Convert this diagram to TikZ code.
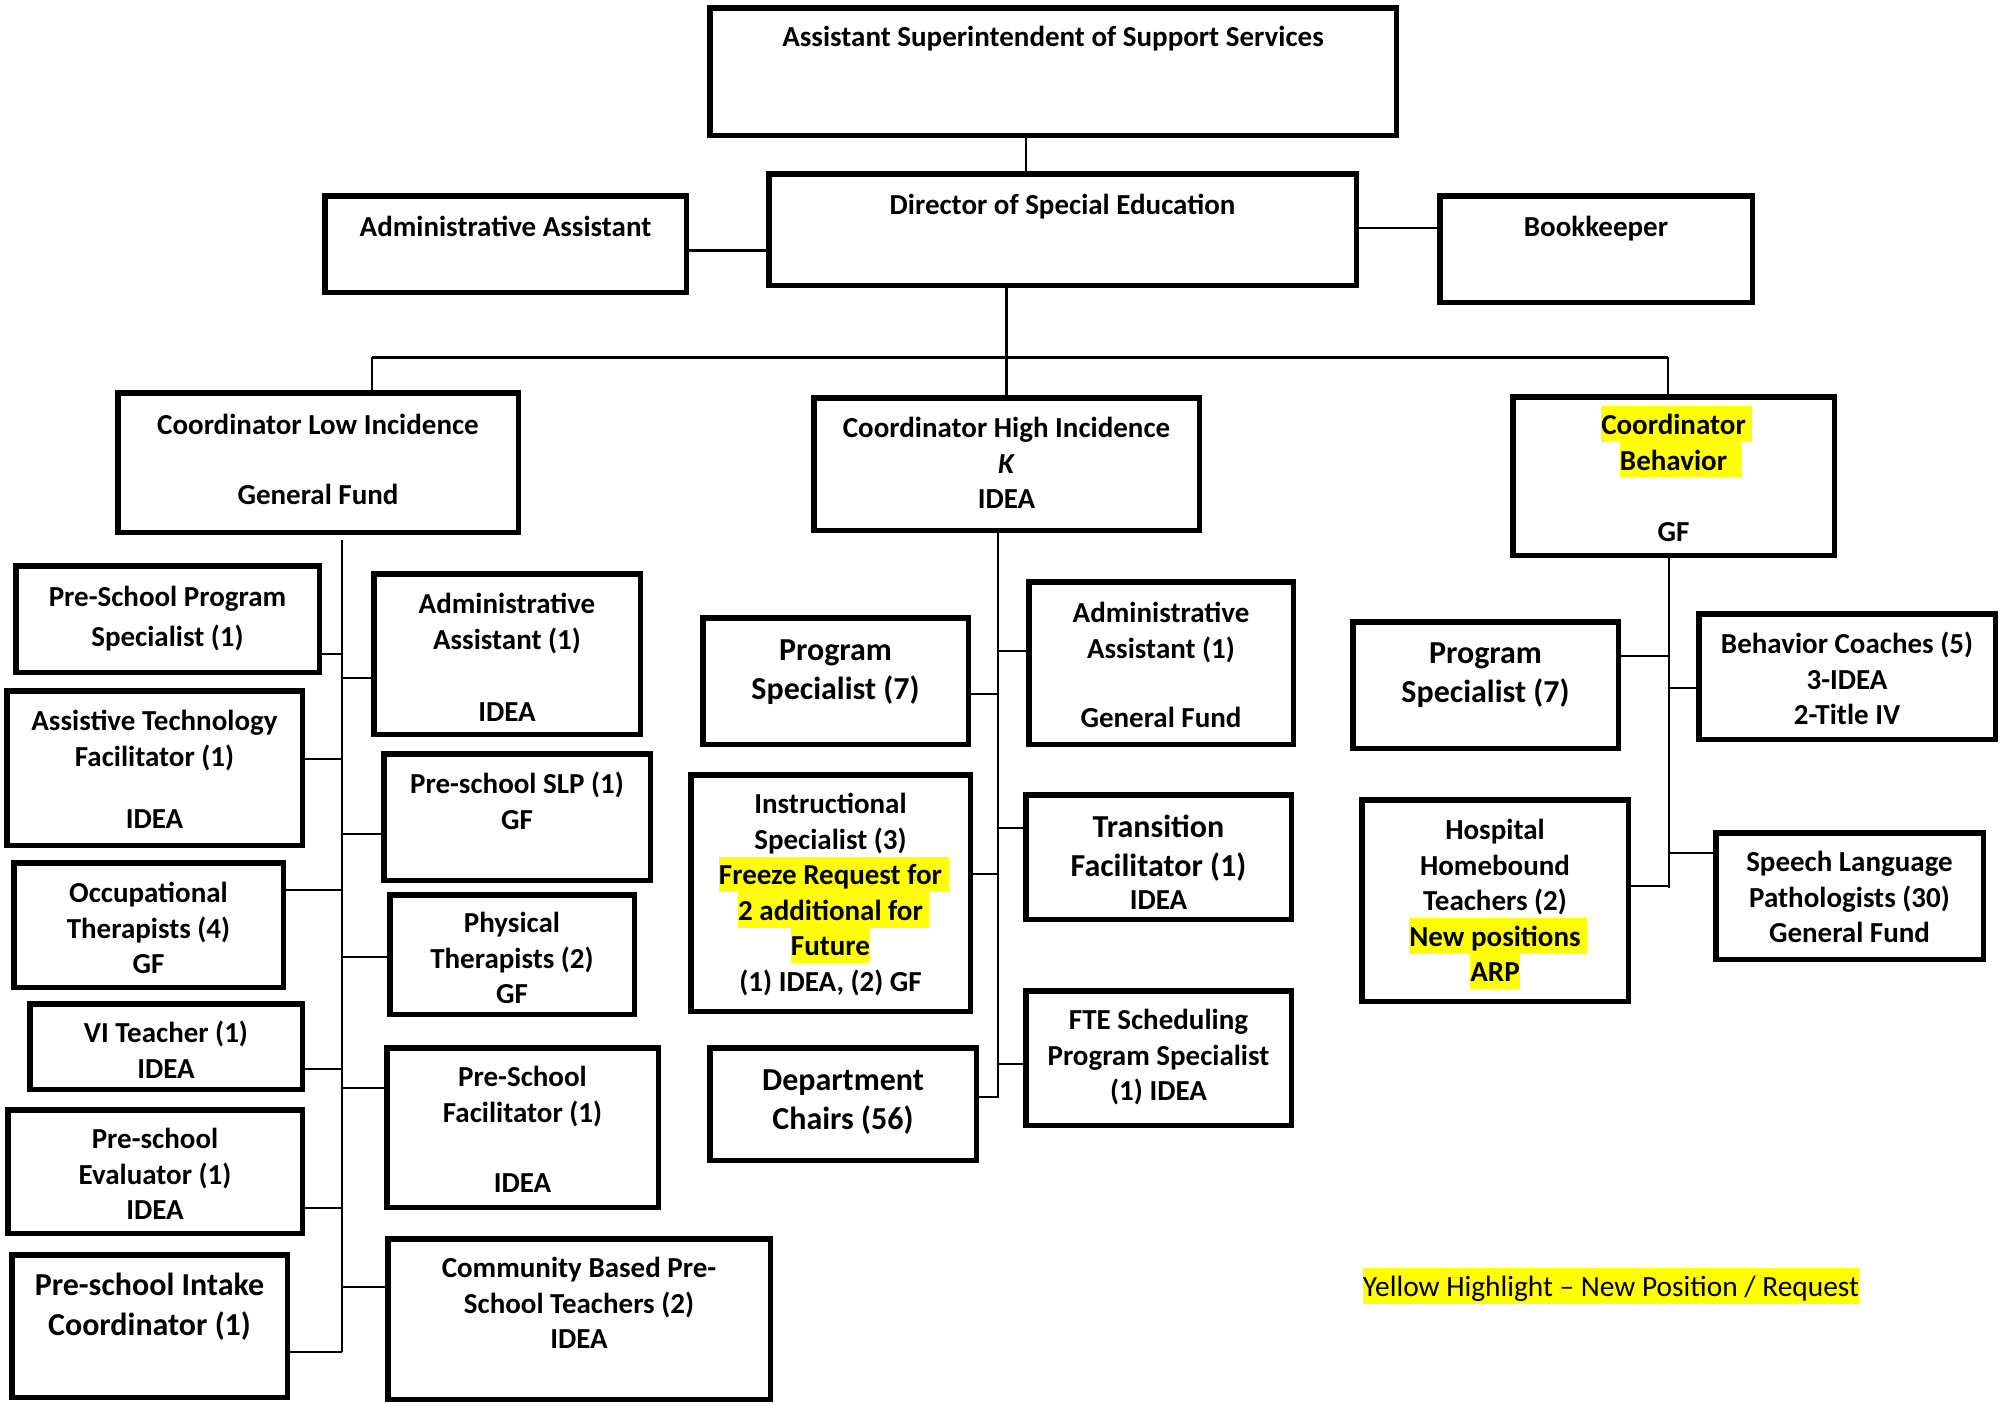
\documentclass[tikz,border=0pt]{standalone}
\usepackage{fontspec}
\setmainfont{Carlito}
\usepackage{xcolor}
\definecolor{hly}{RGB}{255,255,0}
\newcommand\nf{\fontsize{14.5}{17.8}\selectfont\bfseries\lineskiplimit=-20pt\relax}
\newcommand\lf{\fontsize{16}{19.6}\selectfont\bfseries\lineskiplimit=-20pt\relax}
\newcommand\fl{\rule{0pt}{0.97em}}
\newcommand\hlbox[1]{{\setlength\fboxsep{0pt}\colorbox{hly}{\rule[-0.25em]{0pt}{1.22em}#1}}}
\newcommand\hlt[2]{\hlbox{#1}\rlap{\hlbox{\hspace{#2}}}}
\tikzset{
  box/.style={draw, line width=2.75pt, inner sep=0pt},
  txt/.style={font=\nf, align=center, inner sep=0pt, anchor=north},
  txtl/.style={font=\lf, align=center, inner sep=0pt, anchor=north},
  conn/.style={line width=1.2pt},
}
\newcommand\obox[5]{\node[box, minimum width={(#4-#2-5.5)*0.5pt}, minimum height={(#5-#3-5.5)*0.5pt}] (#1) at ({(#2+#4)/2},{(#3+#5)/2}) {};}
\newcommand\tnorm[5][]{\node[txt,#1] (#2) at (#3,{#4-19}) {\fl #5};}
\newcommand\tlarge[5][]{\node[txtl,#1] (#2) at (#3,{#4-21}) {\fl #5};}
\begin{document}
\begin{tikzpicture}[x=0.5pt,y=-0.5pt]
\useasboundingbox (0,0) rectangle (2001,1405);
% boxes
\obox{top}{707}{5}{1399}{138}
\obox{dir}{766}{171}{1359}{288}
\obox{adm}{322}{193}{689}{295}
\obox{book}{1437}{193}{1755}{305}
\obox{low}{115}{390}{521}{535}
\obox{high}{811}{395}{1202}{533}
\obox{beh}{1510}{394}{1837}{558}
\obox{lps}{13}{563}{322}{675}
\obox{lat}{4}{688}{305}{848}
\obox{lot}{11}{860}{286}{990}
\obox{lvi}{27}{1001}{305}{1092}
\obox{lev}{5}{1107}{305}{1236}
\obox{lin}{9}{1252}{290}{1400}
\obox{lad}{371}{571}{643}{737}
\obox{lslp}{381}{751}{653}{883}
\obox{lpt}{387}{892}{637}{1017}
\obox{lpf}{384}{1045}{661}{1210}
\obox{lcb}{385}{1236}{773}{1402}
\obox{hps}{700}{615}{971}{747}
\obox{had}{1026}{579}{1296}{747}
\obox{his}{688}{772}{973}{1014}
\obox{htr}{1023}{792}{1294}{922}
\obox{hfte}{1023}{988}{1294}{1128}
\obox{hdc}{707}{1045}{979}{1163}
\obox{bps}{1350}{619}{1621}{751}
\obox{bbc}{1696}{611}{1998}{742}
\obox{bhh}{1359}{797}{1631}{1004}
\obox{bsl}{1713}{830}{1986}{962}
% texts
\tnorm{topt}{1053}{37}{Assistant Superintendent of Support Services}
\tnorm{dirt}{1062.5}{205}{Director of Special Education}
\tnorm{admt}{505.5}{227}{Administrative Assistant}
\tnorm{bookt}{1596}{227}{Bookkeeper}
\tnorm{lowt}{318}{425}{Coordinator Low Incidence}
\tnorm{lowt2}{318}{495}{General Fund}
\tnorm{hight}{1006.5}{428}{Coordinator High Incidence\\\textit{K}\\IDEA}
\tnorm{beht}{1673.5}{425}{\hlt{Coordinator}{0.23em}\\\hlt{Behavior}{0.5em}}
\tnorm{beht2}{1673.5}{532}{GF}
\tnorm[font=\fontsize{14.5}{20}\selectfont\bfseries]{lpst}{167.5}{597}{Pre-School Program\\Specialist (1)}
\tnorm{latt}{154.5}{721}{Assistive Technology\\Facilitator (1)}
\tnorm{latt2}{154.5}{819}{IDEA}
\tnorm{lott}{148.5}{893}{Occupational\\Therapists (4)\\GF}
\tnorm{lvit}{166}{1033}{VI Teacher (1)\\IDEA}
\tnorm{levt}{155}{1139}{Pre-school\\Evaluator (1)\\IDEA}
\tlarge[font=\fontsize{16}{20}\selectfont\bfseries]{lint}{149.5}{1285}{Pre-school Intake\\Coordinator (1)}
\tnorm{ladt}{507}{604}{Administrative\\Assistant (1)}
\tnorm{ladt2}{507}{712}{IDEA}
\tnorm{lslpt}{517}{784}{Pre-school SLP (1)\\GF}
\tnorm{lptt}{512}{923}{Physical\\Therapists (2)\\GF}
\tnorm{lpft}{522.5}{1077}{Pre-School\\Facilitator (1)}
\tnorm{lpft2}{522.5}{1183}{IDEA}
\tnorm{lcbt}{579}{1268}{Community Based Pre-\\School Teachers (2)\\IDEA}
\tlarge{hpst}{835.5}{650}{Program\\Specialist (7)}
\tnorm{hadt}{1161}{613}{Administrative\\Assistant (1)}
\tnorm{hadt2}{1161}{718}{General Fund}
\tnorm{hist}{830.5}{804}{Instructional\\Specialist (3)\\\hlt{Freeze Request for}{0.23em}\\\hlt{2 additional for}{0.23em}\\\hlbox{Future}\\(1) IDEA, (2) GF}
\tlarge{htrt}{1158.5}{827}{Transition\\Facilitator (1)}
\tnorm{htrt2}{1158.5}{900}{IDEA}
\tnorm{hftet}{1158.5}{1020}{FTE Scheduling\\Program Specialist\\(1) IDEA}
\tlarge{hdct}{843}{1080}{Department\\Chairs (56)}
\tlarge{bpst}{1485.5}{653}{Program\\Specialist (7)}
\tnorm{bbct}{1847}{644}{Behavior Coaches (5)\\3-IDEA\\2-Title IV}
\tnorm{bhht}{1495}{830}{Hospital\\Homebound\\Teachers (2)\\\hlt{New positions}{0.23em}\\\hlbox{ARP}}
\tnorm{bslt}{1849.5}{862}{Speech Language\\Pathologists (30)\\General Fund}
\node[font=\fontsize{14.7}{17.9}\selectfont, inner sep=0pt, anchor=north] (legend) at (1611,1268) {\hlbox{Yellow Highlight – New Position / Request}};
% connectors top
\draw[conn] (top.south -| 1026,0) -- (dir.north -| 1026,0);
\draw[line width=1.5pt] (adm.east |- 0,250) -- (dir.west |- 0,250);
\draw[conn] (dir.east |- 0,228) -- (book.west |- 0,228);
\draw[conn] (high.north |- dir.south) -- (high.north);
\coordinate (barL) at (372,357);
\coordinate (barR) at (1668,357);
\draw[line width=1.5pt] (barL) -- (barR);
\draw[conn] (barL) -- (barL |- low.north);
\draw[conn] (barR) -- (barR |- beh.north);
% low trunk
\coordinate (lt) at (342,540);
\coordinate (lb) at (342,1352);
\draw[conn] (lt) -- (lb);
\draw[conn] (lps.east |- 0,654) -- (lt |- 0,654);
\draw[conn] (lat.east |- 0,759) -- (lt |- 0,759);
\draw[conn] (lot.east |- 0,890) -- (lt |- 0,890);
\draw[conn] (lvi.east |- 0,1069) -- (lt |- 0,1069);
\draw[conn] (lev.east |- 0,1208) -- (lt |- 0,1208);
\draw[conn] (lin.east |- 0,1352) -- (lb);
\draw[conn] (lt |- 0,678) -- (lad.west |- 0,678);
\draw[conn] (lt |- 0,834) -- (lslp.west |- 0,834);
\draw[conn] (lt |- 0,957) -- (lpt.west |- 0,957);
\draw[conn] (lt |- 0,1088) -- (lpf.west |- 0,1088);
\draw[conn] (lt |- 0,1287) -- (lcb.west |- 0,1287);
% high trunk
\coordinate (ht) at (998,533);
\coordinate (hb) at (998,1097);
\draw[conn] (high.south -| ht) -- (hb) -- (hdc.east |- hb);
\draw[conn] (hps.east |- 0,694) -- (ht |- 0,694);
\draw[conn] (ht |- 0,651) -- (had.west |- 0,651);
\draw[conn] (his.east |- 0,874) -- (ht |- 0,874);
\draw[conn] (ht |- 0,828) -- (htr.west |- 0,828);
\draw[conn] (ht |- 0,1064) -- (hfte.west |- 0,1064);
% behavior trunk
\coordinate (bt) at (1669,558);
\coordinate (bb) at (1669,888);
\draw[conn] (beh.south -| bt) -- (bb);
\draw[conn] (bps.east |- 0,656) -- (bt |- 0,656);
\draw[conn] (bt |- 0,688) -- (bbc.west |- 0,688);
\draw[conn] (bhh.east |- 0,886) -- (bt |- 0,886);
\draw[conn] (bt |- 0,853) -- (bsl.west |- 0,853);
\end{tikzpicture}
\end{document}
